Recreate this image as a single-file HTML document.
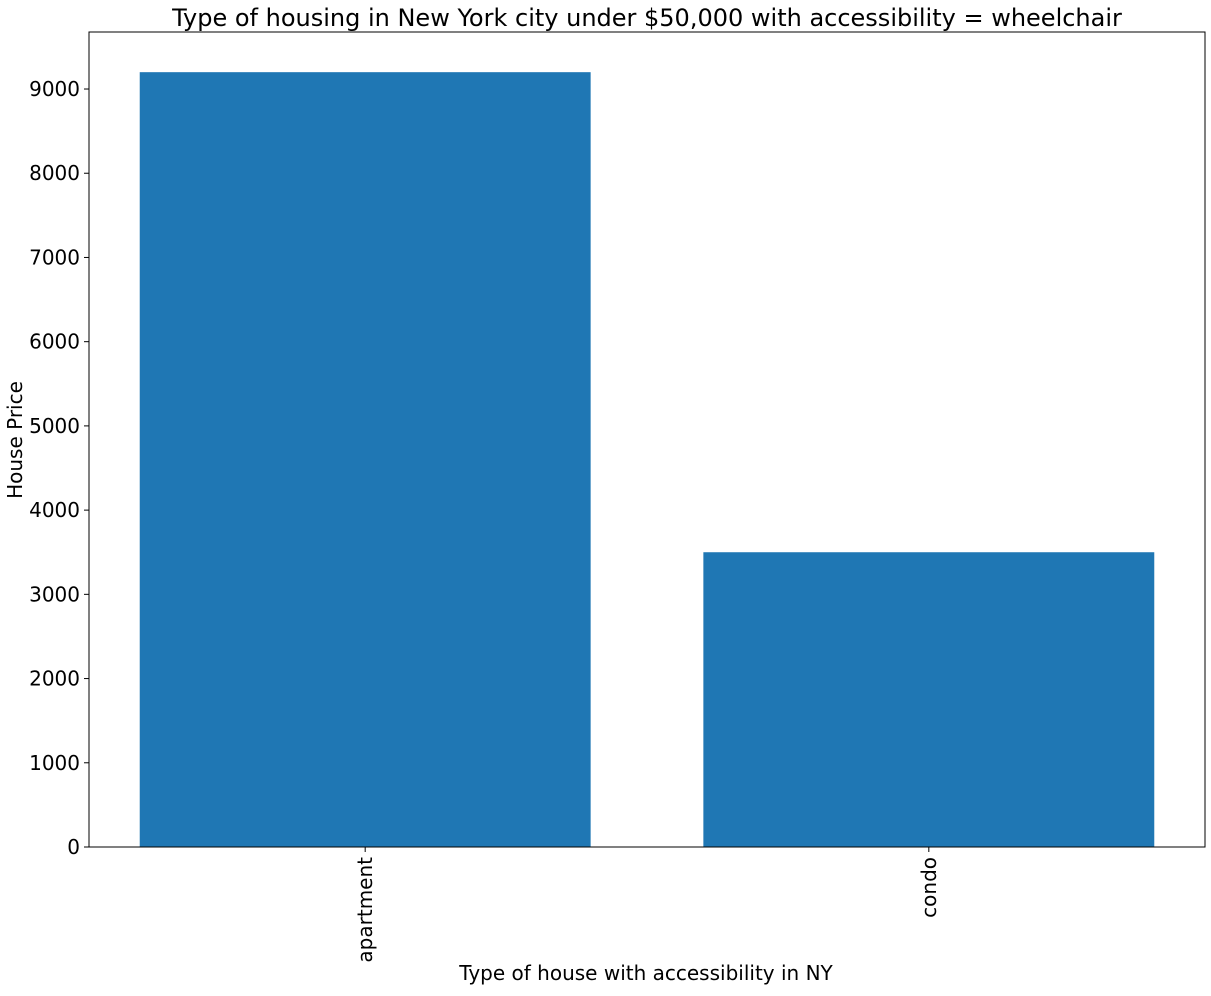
<!DOCTYPE html>
<html><head><meta charset="utf-8">
<style>
body{margin:0;background:#fff;}
svg text{font-family:"DejaVu Sans","Liberation Sans",sans-serif;fill:#000;}
</style></head>
<body>
<svg id="chart" width="1211" height="991" xmlns="http://www.w3.org/2000/svg">
<rect width="1211" height="991" fill="#fff"/>
<text x="647" y="26" font-size="24" text-anchor="middle">Type of housing in New York city under $50,000 with accessibility = wheelchair</text>
<g id="bars"></g>
<g id="yticks"></g>
<g id="xticks"></g>
<rect x="89" y="32" width="1116" height="815" fill="none" stroke="#000" stroke-width="1"/>
<text transform="translate(22,440) rotate(-90)" font-size="20" text-anchor="middle">House Price</text>
<text x="646" y="980" font-size="20" text-anchor="middle">Type of house with accessibility in NY</text>
</svg>
<script>
const categories = ["apartment", "condo"];
const values = [9200, 3500];
const yTicks = [0, 1000, 2000, 3000, 4000, 5000, 6000, 7000, 8000, 9000];

const L=89,R=1205,T=32,B=847;
const xmin=-0.49,xmax=1.49,ymax=9677;
const xs=v=>L+(v-xmin)/(xmax-xmin)*(R-L);
const ys=v=>B-v/ymax*(B-T);
const NS="http://www.w3.org/2000/svg";
const bars=document.getElementById('bars');
const yt=document.getElementById('yticks');
const xt=document.getElementById('xticks');
categories.forEach((c,i)=>{
  const r=document.createElementNS(NS,'rect');
  
  
  r.setAttribute('x',xs(i-0.4));r.setAttribute('width',xs(i+0.4)-xs(i-0.4));
  r.setAttribute('y',ys(values[i]));r.setAttribute('height',B-ys(values[i]));
  r.setAttribute('fill','#1f77b4');
  bars.appendChild(r);
  const x=xs(i);
  const ln=document.createElementNS(NS,'line');
  
  
  ln.setAttribute('x1',x);ln.setAttribute('x2',x);ln.setAttribute('y1',B);ln.setAttribute('y2',B+5);ln.setAttribute('stroke','#000');
  xt.appendChild(ln);
  const t=document.createElementNS(NS,'text');
  
  
  t.setAttribute('transform',`translate(${x+7},${B+10}) rotate(-90)`);
  t.setAttribute('font-size','20');t.setAttribute('text-anchor','end');
  t.textContent=c;
  xt.appendChild(t);
});
yTicks.forEach(v=>{
  const y=ys(v);
  const ln=document.createElementNS(NS,'line');
  
  
  ln.setAttribute('x1',L-5);ln.setAttribute('x2',L);ln.setAttribute('y1',y);ln.setAttribute('y2',y);ln.setAttribute('stroke','#000');
  yt.appendChild(ln);
  const t=document.createElementNS(NS,'text');
  
  
  t.setAttribute('x',L-9);t.setAttribute('y',y+7);
  t.setAttribute('font-size','20');t.setAttribute('text-anchor','end');
  t.textContent=v;
  yt.appendChild(t);
});
</script>
</body></html>
